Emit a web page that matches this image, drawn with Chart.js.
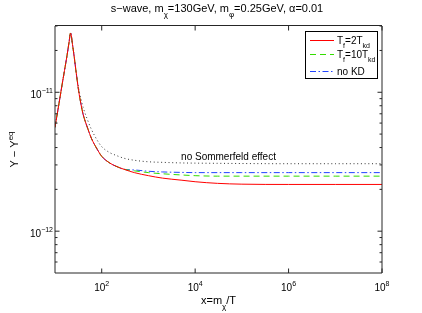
<!DOCTYPE html>
<html><head><meta charset="utf-8">
<script src="https://cdn.jsdelivr.net/npm/chart.js@4.4.1/dist/chart.umd.min.js"></script>
<style>html,body{margin:0;padding:0;background:#fff;} canvas{display:block;}</style>
</head><body>
<canvas id="c" width="422" height="313"></canvas>
<script>
// ---- data ----
const xValues = [10,12,14,16,18,20,21.5,24,26,28,32,36,40,50,60,80,100,150,200,300,500,1000,2000,5000,1e4,3e4,1e5,1e6,1e7,1e8];
const yTf2Tkd = [5.60e-12,8.06e-12,1.105e-11,1.44e-11,1.82e-11,2.29e-11,2.67e-11,2.14e-11,1.76e-11,1.44e-11,1.03e-11,8.20e-12,6.94e-12,5.51e-12,4.67e-12,3.89e-12,3.46e-12,3.09e-12,2.94e-12,2.79e-12,2.64e-12,2.51e-12,2.41e-12,2.33e-12,2.27e-12,2.21e-12,2.18e-12,2.17e-12,2.17e-12,2.17e-12];
const yTf10Tkd = [5.60e-12,8.06e-12,1.105e-11,1.44e-11,1.82e-11,2.29e-11,2.67e-11,2.14e-11,1.76e-11,1.44e-11,1.03e-11,8.20e-12,6.94e-12,5.51e-12,4.67e-12,3.89e-12,3.46e-12,3.09e-12,2.94e-12,2.79e-12,2.72e-12,2.64e-12,2.59e-12,2.54e-12,2.51e-12,2.49e-12,2.49e-12,2.49e-12,2.49e-12,2.49e-12];
const yNoKD = [5.60e-12,8.06e-12,1.105e-11,1.44e-11,1.82e-11,2.29e-11,2.67e-11,2.14e-11,1.76e-11,1.44e-11,1.03e-11,8.20e-12,6.94e-12,5.51e-12,4.67e-12,3.89e-12,3.46e-12,3.09e-12,2.94e-12,2.79e-12,2.76e-12,2.70e-12,2.67e-12,2.65e-12,2.64e-12,2.64e-12,2.64e-12,2.64e-12,2.64e-12,2.64e-12];
const yNoSommerfeld = [5.60e-12,8.06e-12,1.105e-11,1.44e-11,1.82e-11,2.29e-11,2.67e-11,2.14e-11,1.76e-11,1.44e-11,1.07e-11,8.90e-12,7.80e-12,6.29e-12,5.42e-12,4.52e-12,4.06e-12,3.67e-12,3.52e-12,3.35e-12,3.24e-12,3.16e-12,3.13e-12,3.10e-12,3.09e-12,3.08e-12,3.07e-12,3.06e-12,3.06e-12,3.06e-12];
const xTickValues = [1e2,1e4,1e6,1e8];
const xTickExponents = ['2','4','6','8'];
const yTickValues = [1e-12,1e-11];
const yTickExponents = ['\u221212','\u221211'];
const yMinorTicks = [6e-13,7e-13,8e-13,9e-13,2e-12,3e-12,4e-12,5e-12,6e-12,7e-12,8e-12,9e-12,2e-11,3e-11];
const xRange = [10, 1e8];
const yRange = [5e-13, 3e-11];
const seriesLabels = [['T','f','=2T','kd'],['T','f','=10T','kd'],['no KD']];

const FAM = '"Liberation Sans", Arial, Helvetica, sans-serif';
function drawRich(ctx, segs, x, y, size, align){
  const small = Math.round(size*0.72);
  let w = 0;
  const ws = segs.map(s=>{ctx.font=(s.k==='n'?size:small)+'px '+FAM; const v=ctx.measureText(s.t).width; w+=v; return v;});
  let cx = align==='center'? x-w/2 : align==='right'? x-w : x;
  ctx.textAlign='left'; ctx.textBaseline='alphabetic';
  segs.forEach((s,i)=>{
    ctx.font=(s.k==='n'?size:small)+'px '+FAM;
    const dy = s.k==='sub'? size*0.42 : s.k==='sup'? -size*0.5 : 0;
    ctx.fillText(s.t, cx, y+dy);
    cx += ws[i];
  });
  return w;
}
function pairSegs(arr){ return arr.map((t,i)=>({t, k: i%2===1?'sub':'n'})); }

const styles = [
  {color:'#ff0000', dash:[]},
  {color:'#33dd00', dash:[6,4]},
  {color:'#2244ff', dash:[6,2.5,1.5,2.5]},
  {color:'#333333', dash:[1,2.7]}
];

const decor = {
  id:'decor',
  beforeDraw(chart){
    const c=chart.ctx; c.save(); c.fillStyle='#fff'; c.fillRect(0,0,chart.width,chart.height); c.restore();
  },
  afterDraw(chart){
    const c=chart.ctx, a=chart.chartArea, xs=chart.scales.x, ys=chart.scales.y;
    c.save();
    // axes box
    c.strokeStyle='#262626'; c.lineWidth=1;
    c.beginPath();
    c.moveTo(a.left, a.top-0.5); c.lineTo(a.right, a.top-0.5);
    c.moveTo(a.left, a.top); c.lineTo(a.left, a.bottom);
    c.moveTo(a.right, a.top); c.lineTo(a.right, a.bottom);
    c.moveTo(a.left, a.bottom); c.lineTo(a.right, a.bottom);
    c.stroke();
    // ticks
    c.beginPath();
    xTickValues.forEach(v=>{const p=xs.getPixelForValue(v); c.moveTo(p,a.bottom); c.lineTo(p,a.bottom-4.5); c.moveTo(p,a.top); c.lineTo(p,a.top+4.5);});
    yTickValues.forEach(v=>{const p=ys.getPixelForValue(v); c.moveTo(a.left,p); c.lineTo(a.left+4.5,p); c.moveTo(a.right,p); c.lineTo(a.right-4.5,p);});
    yMinorTicks.forEach(v=>{const p=ys.getPixelForValue(v); c.moveTo(a.left,p); c.lineTo(a.left+2.5,p); c.moveTo(a.right,p); c.lineTo(a.right-2.5,p);});
    c.stroke();
    // tick labels
    c.fillStyle='#000';
    xTickValues.forEach((v,i)=>{const p=xs.getPixelForValue(v); drawRich(c,[{t:'10',k:'n'},{t:xTickExponents[i],k:'sup'}],p,290.5,10,'center');});
    yTickValues.forEach((v,i)=>{const p=ys.getPixelForValue(v); drawRich(c,[{t:'10',k:'n'},{t:yTickExponents[i],k:'sup'}],a.left-2,p+5.5,10,'right');});
    // title
    drawRich(c,[{t:'s\u2212wave, m',k:'n'},{t:'\u03c7',k:'sub'},{t:'=130GeV, m',k:'n'},{t:'\u03c6',k:'sub'},{t:'=0.25GeV, \u03b1=0.01',k:'n'}],217,12,11,'center');
    // x title
    drawRich(c,[{t:'x=m',k:'n'},{t:'\u03c7',k:'sub'},{t:'/T',k:'n'}],(a.left+a.right)/2,304,11,'center');
    // y title
    c.save(); c.translate(18,(a.top+a.bottom)/2); c.rotate(-Math.PI/2);
    drawRich(c,[{t:'Y \u2212 Y',k:'n'},{t:'eq',k:'sup'}],0,0,11,'center');
    c.restore();
    // annotation
    c.font='10px '+FAM; c.textAlign='center'; c.textBaseline='alphabetic';
    c.fillText('no Sommerfeld effect',228.5,159.5);
    // legend
    c.fillStyle='#fff'; c.fillRect(305,31,73,48);
    c.strokeStyle='#000'; c.lineWidth=1; c.setLineDash([]);
    c.strokeRect(305.5,31.5,72,47);
    const rowsY=[40.5,54.5,71.5];
    seriesLabels.forEach((lab,i)=>{
      c.strokeStyle=styles[i].color; c.setLineDash(styles[i].dash); c.lineWidth=1;
      c.beginPath(); c.moveTo(310,rowsY[i]); c.lineTo(334,rowsY[i]); c.stroke();
      c.setLineDash([]); c.fillStyle='#000';
      drawRich(c,pairSegs(lab),337,rowsY[i]+3.5,10,'left');
    });
    c.restore();
  }
};

const seriesY=[yTf2Tkd,yTf10Tkd,yNoKD,yNoSommerfeld];
const names=['T_f=2T_kd','T_f=10T_kd','no KD','no Sommerfeld effect'];
new Chart(document.getElementById('c'),{
  type:'line',
  data:{datasets: seriesY.map((ys,i)=>({
    label:names[i],
    data:xValues.map((x,j)=>({x, y:ys[j]})),
    borderColor:styles[i].color, borderDash:styles[i].dash, borderWidth:1,
    pointRadius:0, fill:false, cubicInterpolationMode:'monotone'
  }))},
  options:{
    responsive:false, devicePixelRatio:1, animation:false,
    layout:{padding:{left:55,top:26,right:40,bottom:40}},
    plugins:{legend:{display:false}, title:{display:false}, tooltip:{enabled:false}},
    scales:{
      x:{type:'logarithmic', min:xRange[0], max:xRange[1], display:false},
      y:{type:'logarithmic', min:yRange[0], max:yRange[1], display:false}
    }
  },
  plugins:[decor]
});
</script>
</body></html>
